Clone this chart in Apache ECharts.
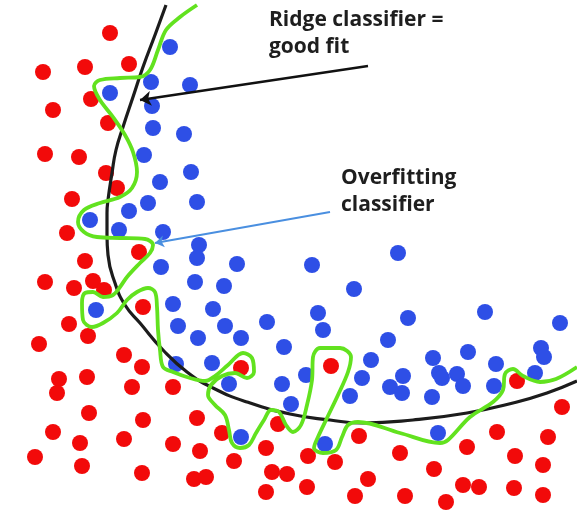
<!DOCTYPE html>
<html>
<head>
<meta charset="utf-8">
<script src="https://cdn.jsdelivr.net/npm/echarts@6/dist/echarts.min.js"></script>
<style>
  html, body { margin: 0; padding: 0; background: #fff; }
  #chart { width: 577px; height: 518px; }
</style>
</head>
<body>
<div id="chart"></div>
<script>
// points (x right, y down)
const redPoints = [
  [110,33],[43,72],[85,67],[129,64],[91,99],[53,110],[108,123],[45,154],[79,157],[106,173],
  [117,188],[72,199],[67,233],[139,252],[85,261],
  [45,282],[74,288],[93,281],[104,290],[143,307],[69,324],[88,336],[39,344],[124,355],[142,367],
  [59,379],[57,393],[87,377],[132,387],[173,387],[241,368],[89,413],[143,420],[197,418],[53,432],
  [80,443],[124,439],[173,444],[222,433],[200,451],[278,424],[266,448],[35,457],[82,466],[234,461],
  [142,473],[194,479],[206,477],[272,472],[287,474],[266,492],
  [331,366],[517,381],[562,407],[359,436],[497,432],[548,437],[308,456],[335,462],[400,453],
  [467,447],[515,456],[543,465],[434,469],[368,479],[307,487],[355,496],[405,496],[446,502],
  [463,485],[479,487],[514,488],[543,495]
]
const bluePoints = [
  [170,47],[151,82],[190,85],[110,93],[152,106],[153,128],[184,134],[144,155],[191,172],[160,182],
  [148,203],[197,202],[129,211],[90,220],[119,230],[163,232],[199,245],[197,258],
  [237,264],[161,267],[195,282],[224,286],[96,310],[173,304],[213,309],[267,322],[178,326],
  [225,326],[198,338],[241,338],[284,347],[176,364],[212,363],[229,384],[282,384],[291,404],[241,437],
  [398,253],[312,265],[354,289],[318,313],[408,318],[485,312],[560,323],[323,330],[388,340],
  [371,360],[433,358],[468,352],[496,364],[541,348],[544,357],[535,373],[306,375],[362,378],
  [403,376],[390,387],[402,393],[439,373],[442,378],[457,374],[463,386],[494,386],[350,396],
  [432,397],[438,433],[325,444]
]
// ridge classifier boundary
const ridgeCurve = [
  [166,5],[155,35],[143,67],[133,97],[123,127],[116,150],[112,173],[108,200],[107,213],[107,235],
  [108,255],[115,283],[125,305],[140,323],[163,350],[187,372],[213,388],[247,402],[290,414],
  [330,420],[363,423],[413,420],[467,413],[513,403],[547,393],[577,381]
]
// overfitting classifier boundary
const overfitCurve = [
  [197,5],[180,17],[166,30],[158,50],[150,70],[140,77],[120,78],[100,80],[94,86],[100,100],
  [113,117],[125,135],[133,152],[137,172],[132,188],[120,197],[100,203],[84,210],[78,222],
  [84,232],[97,237],[120,238],[145,239],[153,245],[150,253],[140,263],[127,277],[120,287],
  [113,295],[103,297],[93,292],[85,293],[82,303],[83,320],[92,327],[103,323],[117,313],[127,300],
  [137,292],[148,288],[155,292],[157,307],[158,330],[160,350],[163,367],[173,372],[190,378],
  [205,381],[215,376],[228,365],[243,353],[252,358],[254,372],[247,378],[235,373],[222,376],
  [211,385],[208,395],[215,405],[225,415],[229,430],[232,443],[240,448],[249,445],[256,433],
  [264,420],[271,410],[279,412],[286,425],[293,432],[301,425],[307,405],[312,380],[313,357],
  [320,348],[340,348],[351,357],[348,372],[338,395],[327,418],[318,437],[314,448],[323,453],
  [336,450],[342,437],[348,425],[358,422],[400,433],[440,443],[448,440],[470,417],[493,402],
  [503,390],[505,374],[513,369],[523,376],[540,382],[556,379],[577,367]
]
const ridgeArrow = [[368,66],[140,100]]
const overfitArrow = [[330,212],[155,243]]

const labelStyle = { fontFamily: 'Open Sans', fontWeight: 'bold', fontSize: 21, fill: '#1e1e1e' }

const chart = echarts.init(document.getElementById('chart'))
chart.setOption({
  animation: false,
  backgroundColor: '#fff',
  grid: { left: 0, right: 0, top: 0, bottom: 0 },
  xAxis: { type: 'value', min: 0, max: 577, show: false },
  yAxis: { type: 'value', min: 0, max: 518, inverse: true, show: false },
  graphic: [
    { type: 'text', left: 269, top: 10, style: Object.assign({ text: 'Ridge classifier =' }, labelStyle) },
    { type: 'text', left: 269, top: 37, style: Object.assign({ text: 'good fit' }, labelStyle) },
    { type: 'text', left: 341, top: 168, style: Object.assign({ text: 'Overfitting' }, labelStyle) },
    { type: 'text', left: 341, top: 195, style: Object.assign({ text: 'classifier' }, labelStyle) }
  ],
  series: [
    {
      type: 'scatter', data: redPoints, symbolSize: 16,
      itemStyle: { color: '#f20a0a', opacity: 1 }, z: 2
    },
    {
      type: 'scatter', data: bluePoints, symbolSize: 16,
      itemStyle: { color: '#2e4fe6', opacity: 1 }, z: 2
    },
    {
      type: 'line', data: ridgeCurve, smooth: true, symbol: 'none',
      lineStyle: { color: '#1c1c1c', width: 3.2 }, z: 3
    },
    {
      type: 'line', data: overfitCurve, smooth: 0.35, symbol: 'none',
      lineStyle: { color: '#62e21f', width: 3.8 }, z: 4
    },
    {
      type: 'lines', coordinateSystem: 'cartesian2d',
      symbol: ['none', 'arrow'], symbolSize: 11,
      data: [{ coords: ridgeArrow }],
      lineStyle: { color: '#111', width: 2.5, opacity: 1, curveness: 0 }, z: 5
    },
    {
      type: 'lines', coordinateSystem: 'cartesian2d',
      symbol: ['none', 'arrow'], symbolSize: 9,
      data: [{ coords: overfitArrow }],
      lineStyle: { color: '#4a8fe0', width: 2, opacity: 1, curveness: 0 }, z: 5
    }
  ]
})
</script>
</body>
</html>
